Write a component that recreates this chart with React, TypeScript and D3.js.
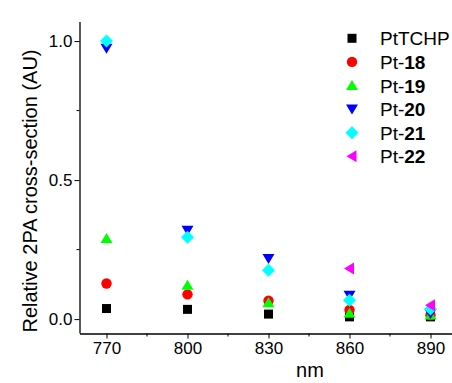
import React, { useEffect, useRef } from "react";
import * as d3 from "d3";

// wavelengths (nm) and relative 2PA cross-sections
const wavelengths = [770, 800, 830, 860, 890];
const seriesNames = ["PtTCHP", "Pt-18", "Pt-19", "Pt-20", "Pt-21", "Pt-22"];
const ptTCHP = [0.038, 0.035, 0.018, 0.008, 0.008];
const pt18 = [0.128, 0.089, 0.066, 0.033, 0.014];
const pt19 = [0.29, 0.122, 0.059, 0.021, 0.015];
const pt20 = [0.974, 0.32, 0.218, 0.086, 0.02];
const pt21 = [1.0, 0.294, 0.176, 0.068, 0.036];
const pt22: (number | null)[] = [null, null, null, 0.182, 0.05];
const yTicks = [0, 0.5, 1.0];

const allSeries = [ptTCHP, pt18, pt19, pt20, pt21, pt22];
const colors = ["#000000", "#ff0000", "#00ff00", "#0000ff", "#00ffff", "#ff00ff"];

// marker shapes, Origin style
const markerPath = (kind: number) => {
  const p = d3.path();
  if (kind === 0) {
    p.rect(-4.5, -4.5, 9, 9);
  } else if (kind === 1) {
    p.arc(0, 0, 5.2, 0, 2 * Math.PI);
  } else if (kind === 2) {
    p.moveTo(0, -5.5);
    p.lineTo(6, 4.5);
    p.lineTo(-6, 4.5);
    p.closePath();
  } else if (kind === 3) {
    p.moveTo(0, 5.5);
    p.lineTo(6, -4.5);
    p.lineTo(-6, -4.5);
    p.closePath();
  } else if (kind === 4) {
    p.moveTo(0, -6.5);
    p.lineTo(6.5, 0);
    p.lineTo(0, 6.5);
    p.lineTo(-6.5, 0);
    p.closePath();
  } else {
    p.moveTo(-5.5, 0);
    p.lineTo(4.5, -6);
    p.lineTo(4.5, 6);
    p.closePath();
  }
  return p.toString();
};

const App = () => {
  const ref = useRef<SVGSVGElement>(null);

  useEffect(() => {
    const svg = d3.select(ref.current);
    svg.selectAll("*").remove();

    const font = "'Liberation Sans', Arial, sans-serif";
    const x = d3.scaleLinear().domain([760, 900]).range([79.5, 457.5]);
    const y = d3.scaleLinear().domain([-0.05, 1.07]).range([333, 21.6]);

    // y axis
    const yAxis = svg.append("g").attr("transform", "translate(79.5,0)");
    yAxis.call(
      d3.axisLeft(y).tickValues(yTicks).tickSize(5).tickFormat(d3.format(".1f")).tickSizeOuter(0)
    );
    yAxis.selectAll("text").attr("font-size", 17).attr("font-family", font).attr("fill", "#000").attr("x", -7);
    yAxis
      .selectAll(".minor")
      .data([0.25, 0.75])
      .enter()
      .append("line")
      .attr("x1", -3)
      .attr("x2", 0)
      .attr("y1", (d) => y(d))
      .attr("y2", (d) => y(d))
      .attr("stroke", "#000");

    // x axis
    const xAxis = svg.append("g").attr("transform", "translate(0,333.5)");
    xAxis.call(d3.axisBottom(x).tickValues(wavelengths).tickSize(5).tickSizeOuter(0));
    xAxis.selectAll("text").attr("font-size", 17).attr("font-family", font).attr("fill", "#000").attr("y", 8);
    xAxis
      .selectAll(".minor")
      .data([785, 815, 845, 875])
      .enter()
      .append("line")
      .attr("x1", (d) => x(d))
      .attr("x2", (d) => x(d))
      .attr("y1", 0)
      .attr("y2", 3)
      .attr("stroke", "#000");
    svg.selectAll(".domain").attr("stroke", "#000").attr("stroke-width", 1.3);

    // axis titles
    svg
      .append("text")
      .attr("x", 310)
      .attr("y", 377)
      .attr("text-anchor", "middle")
      .attr("font-size", 20)
      .attr("font-family", font)
      .text("nm");
    svg
      .append("text")
      .attr("transform", "translate(37,191) rotate(-90)")
      .attr("text-anchor", "middle")
      .attr("font-size", 20)
      .attr("font-family", font)
      .text("Relative 2PA cross-section (AU)");

    // markers
    allSeries.forEach((vals, i) => {
      svg
        .append("g")
        .selectAll("path")
        .data(vals.map((v, j) => ({ w: wavelengths[j], v })).filter((d) => d.v !== null))
        .enter()
        .append("path")
        .attr("d", markerPath(i))
        .attr("transform", (d) => `translate(${x(d.w)},${y(d.v as number)})`)
        .attr("fill", colors[i]);
    });

    // legend
    const legend = svg
      .selectAll(".legend")
      .data(seriesNames)
      .enter()
      .append("g")
      .attr("transform", (d, i) => `translate(352,${38.3 + i * 23.6})`);
    legend.append("path").attr("d", (d, i) => markerPath(i)).attr("fill", (d, i) => colors[i]);
    const label = legend
      .append("text")
      .attr("x", 28)
      .attr("y", 7)
      .attr("font-size", 19)
      .attr("font-family", font);
    label.each(function (d) {
      const t = d3.select(this);
      if (d.startsWith("Pt-")) {
        t.append("tspan").text("Pt-");
        t.append("tspan").attr("font-weight", "bold").text(d.slice(3));
      } else {
        t.text(d);
      }
    });
  }, []);

  return <svg ref={ref} width={452} height={383} style={{ display: "block", position: "absolute", left: 0, top: 0 }} />;
};

export default App;
